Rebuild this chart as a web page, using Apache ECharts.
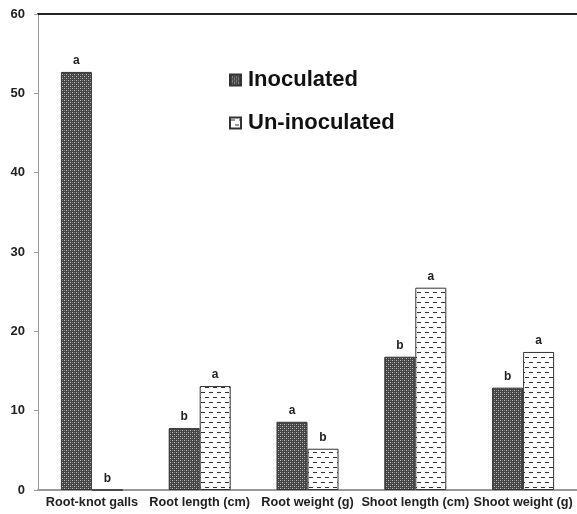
<!DOCTYPE html>
<html>
<head>
<meta charset="utf-8">
<script src="https://cdn.jsdelivr.net/npm/echarts@6/dist/echarts.min.js"></script>
<style>
  html, body { margin: 0; padding: 0; background: #fff; }
  #chart { width: 577px; height: 514px; }
</style>
</head>
<body>
<div id="chart"></div>
<script>
// Measured plant parameters per treatment
const categories = ['Root-knot galls', 'Root length (cm)', 'Root weight (g)', 'Shoot length (cm)', 'Shoot weight (g)'];
const inoculated = [52.7, 7.8, 8.6, 16.8, 12.9];
const uninoculated = [0, 13.1, 5.2, 25.5, 17.4];
// Significance letters shown above each bar
const inoculatedLetters = ['a', 'b', 'a', 'b', 'b'];
const uninoculatedLetters = ['b', 'a', 'b', 'a', 'a'];
const yTicks = [0, 10, 20, 30, 40, 50, 60];

// Dark dotted fill tile
function checkerTile() {
  const c = document.createElement('canvas');
  c.width = 4; c.height = 4;
  const g = c.getContext('2d');
  g.fillStyle = '#444444';
  g.fillRect(0, 0, 4, 4);
  g.fillStyle = '#bcbcbc';
  g.fillRect(0, 0, 1, 1);
  g.fillRect(2, 2, 1, 1);
  g.fillStyle = '#777777';
  g.fillRect(2, 0, 1, 1);
  g.fillRect(0, 2, 1, 1);
  return c;
}
// White fill with staggered horizontal dashes
function dashTile() {
  const c = document.createElement('canvas');
  c.width = 8; c.height = 10;
  const g = c.getContext('2d');
  g.fillStyle = '#ffffff';
  g.fillRect(0, 0, 8, 10);
  g.fillStyle = '#333333';
  g.fillRect(1, 2, 4, 1);
  g.fillRect(5, 7, 3, 1);
  g.fillRect(0, 7, 1, 1);
  return c;
}

const chart = echarts.init(document.getElementById('chart'), null, { renderer: 'canvas' });
const font = 'Arial, "Liberation Sans", sans-serif';

function letterLabel(letters) {
  return {
    show: true,
    position: 'top',
    distance: 5,
    fontFamily: font,
    fontWeight: 'bold',
    fontSize: 12,
    color: '#222',
    formatter: p => letters[p.dataIndex]
  };
}

chart.setOption({
  animation: false,
  backgroundColor: '#fff',
  grid: { left: 38, right: 0, top: 14, bottom: 24, containLabel: false },
  legend: {
    orient: 'vertical',
    left: 224,
    top: 64,
    icon: 'rect',
    itemWidth: 11,
    itemHeight: 11,
    itemGap: 21,
    textStyle: { fontFamily: font, fontWeight: 'bold', fontSize: 22, color: '#111', padding: [0, 0, 0, 2] },
    data: ['Inoculated', 'Un-inoculated']
  },
  xAxis: [{
    type: 'category',
    data: categories,
    axisLine: { lineStyle: { color: '#999', width: 2 } },
    axisTick: { show: false },
    axisLabel: { fontFamily: font, fontWeight: 'bold', fontSize: 12.7, color: '#222', margin: 6, interval: 0 }
  }, {
    type: 'category',
    position: 'top',
    data: categories,
    axisLine: { lineStyle: { color: '#222', width: 2 } },
    axisTick: { show: false },
    axisLabel: { show: false }
  }],
  yAxis: {
    type: 'value',
    min: yTicks[0],
    max: yTicks[yTicks.length - 1],
    interval: 10,
    axisLine: { show: true, lineStyle: { color: '#999', width: 1 } },
    axisTick: { show: true, length: 4, lineStyle: { color: '#999' } },
    splitLine: { show: false },
    axisLabel: { fontFamily: font, fontWeight: 'bold', fontSize: 13, color: '#222', margin: 13 }
  },
  series: [{
    name: 'Inoculated',
    type: 'bar',
    data: inoculated,
    barWidth: 31,
    barGap: '0%',
    itemStyle: { color: { image: checkerTile(), repeat: 'repeat' }, borderColor: '#333', borderWidth: 1 },
    label: letterLabel(inoculatedLetters)
  }, {
    name: 'Un-inoculated',
    type: 'bar',
    data: uninoculated,
    barWidth: 31,
    barGap: '0%',
    itemStyle: { color: { image: dashTile(), repeat: 'repeat' }, borderColor: '#333', borderWidth: 1 },
    label: letterLabel(uninoculatedLetters)
  }]
});
</script>
</body>
</html>
